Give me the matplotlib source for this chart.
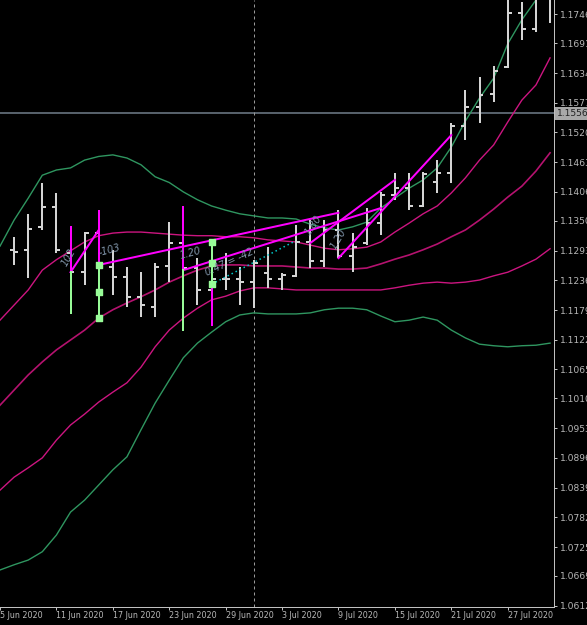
import matplotlib
matplotlib.use('Agg')
import matplotlib.pyplot as plt

# ---------------- data ----------------
bar_idx = list(range(-3, 36))
opens  = [1.1295,1.1295,1.1339,1.1377,1.1289,1.1252,1.1327,1.1262,1.1243,1.1205,1.1185,1.1264,1.1308,1.1260,1.1218,1.1239,1.1239,1.1233,1.1251,1.1239,1.1245,1.1310,1.1273,1.1333,1.1283,1.1308,1.1346,1.1400,1.1414,1.1379,1.1425,1.1442,1.1532,1.1569,1.1594,1.1646,1.1749,1.1718,1.1785]
highs  = [1.1320,1.1364,1.1423,1.1404,1.1339,1.1329,1.1369,1.1295,1.1262,1.1252,1.1270,1.1348,1.1377,1.1279,1.1310,1.1289,1.1262,1.1275,1.1300,1.1251,1.1343,1.1352,1.1352,1.1371,1.1327,1.1375,1.1406,1.1442,1.1442,1.1444,1.1467,1.1538,1.1601,1.1626,1.1647,1.1790,1.1770,1.1800,1.1820]
lows   = [1.1266,1.1241,1.1333,1.1289,1.1174,1.1227,1.1164,1.1208,1.1185,1.1166,1.1166,1.1233,1.1141,1.1189,1.1151,1.1218,1.1189,1.1183,1.1222,1.1218,1.1243,1.1260,1.1262,1.1279,1.1252,1.1304,1.1323,1.1391,1.1371,1.1377,1.1404,1.1423,1.1506,1.1538,1.1578,1.1644,1.1697,1.1713,1.1730]
closes = [1.1291,1.1335,1.1377,1.1295,1.1252,1.1327,1.1262,1.1243,1.1205,1.1189,1.1262,1.1308,1.1260,1.1218,1.1239,1.1239,1.1233,1.1270,1.1239,1.1247,1.1310,1.1273,1.1333,1.1283,1.1300,1.1346,1.1400,1.1414,1.1379,1.1440,1.1442,1.1532,1.1569,1.1592,1.1638,1.1749,1.1718,1.1785,1.1790]

band_idx = list(range(-4, 36))
upper2 = [1.1302,1.1352,1.1394,1.1438,1.1448,1.1452,1.1467,1.1474,1.1477,1.1471,1.1458,1.1435,1.1424,1.1406,1.1391,1.1379,1.1371,1.1364,1.1360,1.1356,1.1356,1.1354,1.1344,1.1337,1.1333,1.1339,1.1348,1.1375,1.1394,1.1413,1.1429,1.1452,1.1492,1.1542,1.1586,1.1624,1.1690,1.1736,1.1774,1.1832]
upper1 = [1.1160,1.1189,1.1218,1.1256,1.1276,1.1293,1.1310,1.1322,1.1327,1.1329,1.1329,1.1327,1.1325,1.1323,1.1322,1.1322,1.1320,1.1320,1.1318,1.1314,1.1312,1.1310,1.1304,1.1298,1.1295,1.1297,1.1300,1.1310,1.1329,1.1346,1.1364,1.1379,1.1404,1.1433,1.1467,1.1496,1.1540,1.1582,1.1611,1.1663]
middle = [1.0997,1.1026,1.1055,1.1080,1.1103,1.1122,1.1141,1.1164,1.1180,1.1193,1.1205,1.1218,1.1233,1.1245,1.1256,1.1264,1.1266,1.1266,1.1264,1.1264,1.1264,1.1262,1.1260,1.1260,1.1258,1.1258,1.1260,1.1268,1.1277,1.1285,1.1295,1.1306,1.1320,1.1333,1.1352,1.1373,1.1396,1.1417,1.1446,1.1481]
lower1 = [1.0834,1.0859,1.0877,1.0896,1.0930,1.0959,1.0980,1.1003,1.1022,1.1040,1.1070,1.1109,1.1141,1.1164,1.1183,1.1199,1.1206,1.1216,1.1222,1.1222,1.1220,1.1218,1.1218,1.1218,1.1218,1.1218,1.1218,1.1218,1.1222,1.1227,1.1231,1.1233,1.1231,1.1233,1.1237,1.1245,1.1252,1.1264,1.1277,1.1297]
lower2 = [1.0681,1.0691,1.0700,1.0716,1.0748,1.0792,1.0815,1.0844,1.0873,1.0898,1.0950,1.1001,1.1045,1.1088,1.1116,1.1137,1.1157,1.1170,1.1174,1.1172,1.1172,1.1172,1.1174,1.1180,1.1183,1.1183,1.1180,1.1168,1.1157,1.1160,1.1166,1.1160,1.1141,1.1126,1.1114,1.1111,1.1109,1.1111,1.1112,1.1116]

date_ticks = [-4, 0, 4, 8, 12, 16, 20, 24, 28, 32]
date_labels = ['5 Jun 2020', '11 Jun 2020', '17 Jun 2020', '23 Jun 2020', '29 Jun 2020',
               '3 Jul 2020', '9 Jul 2020', '15 Jul 2020', '21 Jul 2020', '27 Jul 2020']
price_ticks = [1.17465, 1.16910, 1.16340, 1.15770, 1.15200, 1.14630, 1.14060, 1.13505,
               1.12935, 1.12365, 1.11795, 1.11225, 1.10655, 1.10100, 1.09530, 1.08960,
               1.08390, 1.07820, 1.07250, 1.06695, 1.06125]
current_price = 1.15564
vline_idx = 14

# pattern drawing objects: (x0, y0, x1, y1) in (bar index, price)
magenta_segments = [
    (1, 1.1252, 3, 1.1333),
    (1, 1.1339, 1, 1.1252),
    (3, 1.1369, 3, 1.1266),
    (3, 1.1266, 20, 1.1366),
    (9, 1.1377, 9, 1.1256),
    (9, 1.1256, 23, 1.1375),
    (11, 1.1229, 11, 1.1151),
    (18, 1.1308, 24, 1.1429),
    (20, 1.1279, 28, 1.1515),
]
green_segments = [
    (1, 1.1252, 1, 1.1174),
    (3, 1.1266, 3, 1.1164),
    (9, 1.1256, 9, 1.1141),
    (11, 1.1310, 11, 1.1229),
]
green_handles_x = [3, 3, 3, 11, 11, 11]
green_handles_y = [1.1266, 1.1215, 1.1164, 1.1310, 1.1270, 1.1229]
cyan_dotted = (11, 1.1229, 16.8, 1.1310)
labels_txt = ['102', '-103', '1.20', '0.47 = -42', '1.80', '1.20']
labels_x = [0.5, 3.0, 8.75, 10.6, 17.8, 19.6]
labels_y = [1.1264, 1.1289, 1.1282, 1.1250, 1.1325, 1.1297]
labels_rot = [60, 15, 15, 25, 55, 60]

# ---------------- figure ----------------
W, H = 587, 625
fig = plt.figure(figsize=(W / 100, H / 100), dpi=100, facecolor='black')
ax = fig.add_axes([0, 18 / H, 554 / W, 607 / H])
ax.set_facecolor('black')
ax.set_xlim(-3.46, 35.28)
ax.set_ylim(1.06100, 1.17740)

px = 0.72  # points per pixel
axis_font = ['Liberation Sans Narrow', 'DejaVu Sans']

# bands
green_c = '#2f9660'
pink_c = '#cc1580'
ax.plot(band_idx, upper2, color=green_c, lw=1.0, zorder=2)
ax.plot(band_idx, lower2, color=green_c, lw=1.0, zorder=2)
ax.plot(band_idx, upper1, color=pink_c, lw=1.0, zorder=2)
ax.plot(band_idx, middle, color='#b5126f', lw=1.2, zorder=2)
ax.plot(band_idx, lower1, color=pink_c, lw=1.0, zorder=2)

# current price line & vertical separator
ax.axhline(current_price, color='#56606a', lw=2 * px, zorder=1)
ax.axvline(vline_idx, color='#9a9a9a', lw=1 * px, ls=(0, (3, 3)), zorder=1)

# OHLC bars
bar_c = '#d4d4d4'
tick_w = 0.28
for i, o, h, l, c in zip(bar_idx, opens, highs, lows, closes):
    ax.plot([i, i], [l, h], color=bar_c, lw=2 * px, solid_capstyle='butt', zorder=3)
    ax.plot([i - tick_w, i], [o, o], color=bar_c, lw=2 * px, solid_capstyle='butt', zorder=3)
    ax.plot([i, i + tick_w], [c, c], color=bar_c, lw=2 * px, solid_capstyle='butt', zorder=3)

# pattern objects
for x0, y0, x1, y1 in magenta_segments:
    ax.plot([x0, x1], [y0, y1], color='#ff00ff', lw=2 * px, zorder=5)
for x0, y0, x1, y1 in green_segments:
    ax.plot([x0, x1], [y0, y1], color='#98fb98', lw=2 * px, zorder=5)
ax.scatter(green_handles_x, green_handles_y, marker='s', s=14, color='#98fb98', zorder=6)
ax.plot([cyan_dotted[0], cyan_dotted[2]], [cyan_dotted[1], cyan_dotted[3]],
        color='#00ced1', lw=1.5 * px, ls=(0, (1, 2)), zorder=4)
for t, x, y, r in zip(labels_txt, labels_x, labels_y, labels_rot):
    ax.text(x, y, t, color='#7f93a8', fontsize=7, rotation=r, style='italic',
            rotation_mode='anchor', ha='left', va='center', zorder=7)

# axes styling
for s in ['left', 'top']:
    ax.spines[s].set_visible(False)
for s in ['right', 'bottom']:
    ax.spines[s].set_color('#c0c0c0')
    ax.spines[s].set_linewidth(1 * px)

ax.yaxis.tick_right()
ax.set_yticks(price_ticks)
ax.set_yticklabels([f'{v:.5f}' for v in price_ticks], family=axis_font, fontsize=6.6)
ax.tick_params(axis='y', colors='#c0c0c0', labelcolor='#b8b8b8', length=3 * px,
               width=1 * px, pad=3 * px)
ax.set_xticks(date_ticks)
ax.set_xticklabels(date_labels, ha='left', family=axis_font, fontsize=5.8)
ax.tick_params(axis='x', colors='#c0c0c0', labelcolor='#b8b8b8', length=3 * px,
               width=1 * px, pad=1 * px)

# current price label box
ax.annotate(f'{current_price:.5f}', xy=(1, current_price), xycoords=('axes fraction', 'data'),
            xytext=(3 * px, 0), textcoords='offset points', ha='left', va='center',
            fontsize=6.6, family=axis_font, color='#202020',
            bbox=dict(boxstyle='square,pad=0.2', fc='#a8a8a8', ec='none'), annotation_clip=False)

fig.savefig('out.png', dpi=100, facecolor='black')
